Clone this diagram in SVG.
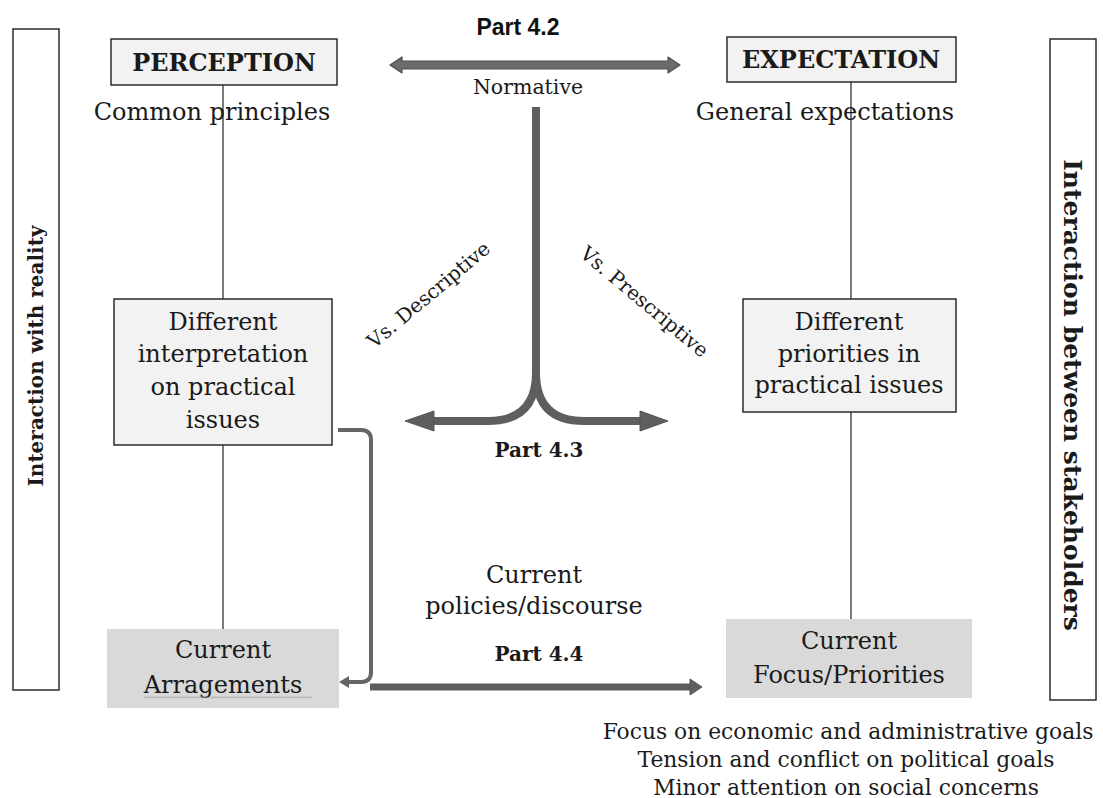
<svg xmlns="http://www.w3.org/2000/svg" width="1103" height="798" viewBox="0 0 1103 798">
  <style>
    .t { font-family: "DejaVu Serif", "Liberation Serif", serif; fill: #1a1a1a; text-anchor: middle; }
    .body { font-size: 24px; }
    .small { font-size: 20px; }
    .note { font-size: 21.8px; }
    .bold { font-weight: bold; }
    .sans { font-family: "Liberation Sans", Arial, sans-serif; font-weight: bold; font-size: 23px; fill: #111; text-anchor: middle; }
    .box { fill: #f2f2f2; stroke: #2b2b2b; stroke-width: 1.5; }
    .cur { fill: #d9d9d9; stroke: none; }
    .side { fill: #ffffff; stroke: #2b2b2b; stroke-width: 1.5; }
    .thin { fill: none; stroke: #222; stroke-width: 1.2; }
    .thick { fill: none; stroke: #5e5e5e; stroke-width: 8; }
    .head { fill: #5e5e5e; stroke: #555; stroke-width: 1; stroke-linejoin: round; }
  </style>

  <rect width="1103" height="798" fill="#ffffff"/>

  <!-- side labels -->
  <g id="reality">
    <rect class="side" x="13" y="29" width="46" height="661"/>
    <text class="t bold" font-size="20" transform="translate(43,356) rotate(-90)">Interaction with reality</text>
  </g>
  <g id="stakeholders">
    <rect class="side" x="1050" y="39" width="46" height="661"/>
    <text class="t bold" font-size="25" transform="translate(1064,395) rotate(90)">Interaction between stakeholders</text>
  </g>

  <!-- connectors -->
  <g id="connectors">
    <!-- thin column lines -->
    <line class="thin" x1="223" y1="85" x2="223" y2="299"/>
    <line class="thin" x1="223" y1="445" x2="223" y2="629"/>
    <line class="thin" x1="851" y1="82" x2="851" y2="299"/>
    <line class="thin" x1="851" y1="412" x2="851" y2="619"/>

    <!-- normative double arrow -->
    <path d="M390,65 L402,57 L402,61 L668,61 L668,57 L680,65 L668,73 L668,69 L402,69 L402,73 Z" fill="#6b6b6b" stroke="#505050" stroke-width="1.2" stroke-linejoin="round"/>

    <!-- branching arrow -->
    <path class="thick" d="M536,107 V373 Q536,421 488,421 H430"/>
    <path class="thick" d="M536,373 Q536,421 584,421 H644"/>
    <polygon class="head" points="434,411 405,421 434,431"/>
    <polygon class="head" points="640,411 668,421 640,431"/>

    <!-- bracket from interpretation to arrangements -->
    <path d="M338,430 H361 Q371,430 371,440 V672 Q371,682 361,682 H347" fill="none" stroke="#666" stroke-width="4"/>
    <polygon points="349,676 339,682 349,688" fill="#666"/>

    <!-- arrangements to focus -->
    <line x1="370" y1="687" x2="692" y2="687" stroke="#5e5e5e" stroke-width="7"/>
    <polygon class="head" points="690,679 702,687 690,695"/>
  </g>

  <!-- labels on connectors -->
  <g id="labels">
    <text class="sans" x="518" y="35">Part 4.2</text>
    <text class="t" font-size="20.5" x="528" y="94">Normative</text>
    <text class="t small" transform="translate(433,300) rotate(-40)">Vs. Descriptive</text>
    <text class="t small" transform="translate(640,307) rotate(40)">Vs. Prescriptive</text>
    <text class="t bold small" x="539" y="457">Part 4.3</text>
    <text class="t body" x="534" y="583">Current</text>
    <text class="t body" x="534" y="614">policies/discourse</text>
    <text class="t bold small" x="539" y="661">Part 4.4</text>
  </g>

  <g id="perception">
    <rect class="box" x="111" y="39" width="226" height="46"/>
    <text class="t bold body" x="224" y="71">PERCEPTION</text>
    <text class="t body" x="212" y="120">Common principles</text>
  </g>

  <g id="expectation">
    <rect class="box" x="727" y="37" width="229" height="45"/>
    <text class="t bold body" x="841" y="68">EXPECTATION</text>
    <text class="t body" x="825" y="120">General expectations</text>
  </g>

  <g id="interpretation">
    <rect class="box" x="114" y="299" width="218" height="146"/>
    <text class="t body" x="223" y="330">Different</text>
    <text class="t body" x="223" y="362">interpretation</text>
    <text class="t body" x="223" y="395">on practical</text>
    <text class="t body" x="223" y="428">issues</text>
  </g>

  <g id="priorities">
    <rect class="box" x="743" y="299" width="213" height="113"/>
    <text class="t body" x="849" y="330">Different</text>
    <text class="t body" x="849" y="362">priorities in</text>
    <text class="t body" x="849" y="393">practical issues</text>
  </g>

  <g id="arrangements">
    <rect class="cur" x="107" y="629" width="232" height="79"/>
    <text class="t body" x="223" y="658">Current</text>
    <text class="t body" x="223" y="693">Arragements</text>
    <path d="M144,698 l2,-1.5 l2,1.5 l2,-1.5 l2,1.5 l2,-1.5 l2,1.5 l2,-1.5 l2,1.5 l2,-1.5 l2,1.5 l2,-1.5 l2,1.5 l2,-1.5 l2,1.5 l2,-1.5 l2,1.5 l2,-1.5 l2,1.5 l2,-1.5 l2,1.5 l2,-1.5 l2,1.5 l2,-1.5 l2,1.5 l2,-1.5 l2,1.5 l2,-1.5 l2,1.5 l2,-1.5 l2,1.5 l2,-1.5 l2,1.5 l2,-1.5 l2,1.5 l2,-1.5 l2,1.5 l2,-1.5 l2,1.5 l2,-1.5 l2,1.5 l2,-1.5 l2,1.5 l2,-1.5 l2,1.5 l2,-1.5 l2,1.5 l2,-1.5 l2,1.5 l2,-1.5 l2,1.5 l2,-1.5 l2,1.5 l2,-1.5 l2,1.5 l2,-1.5 l2,1.5 l2,-1.5 l2,1.5 l2,-1.5 l2,1.5 l2,-1.5 l2,1.5 l2,-1.5 l2,1.5 l2,-1.5 l2,1.5 l2,-1.5 l2,1.5 l2,-1.5 l2,1.5 l2,-1.5 l2,1.5 l2,-1.5 l2,1.5 l2,-1.5 l2,1.5 l2,-1.5 l2,1.5 l2,-1.5 l2,1.5 l2,-1.5 l2,1.5 l2,-1.5 l2,1.5" fill="none" stroke="#9a9a9a" stroke-width="0.8"/>
  </g>

  <g id="focus">
    <rect class="cur" x="726" y="619" width="246" height="79"/>
    <text class="t body" x="849" y="649">Current</text>
    <text class="t body" x="849" y="683">Focus/Priorities</text>
  </g>

  <g id="outcomes">
    <text class="t note" x="848" y="739">Focus on economic and administrative goals</text>
    <text class="t note" x="846" y="767">Tension and conflict on political goals</text>
    <text class="t note" x="846" y="795">Minor attention on social concerns</text>
  </g>
</svg>
